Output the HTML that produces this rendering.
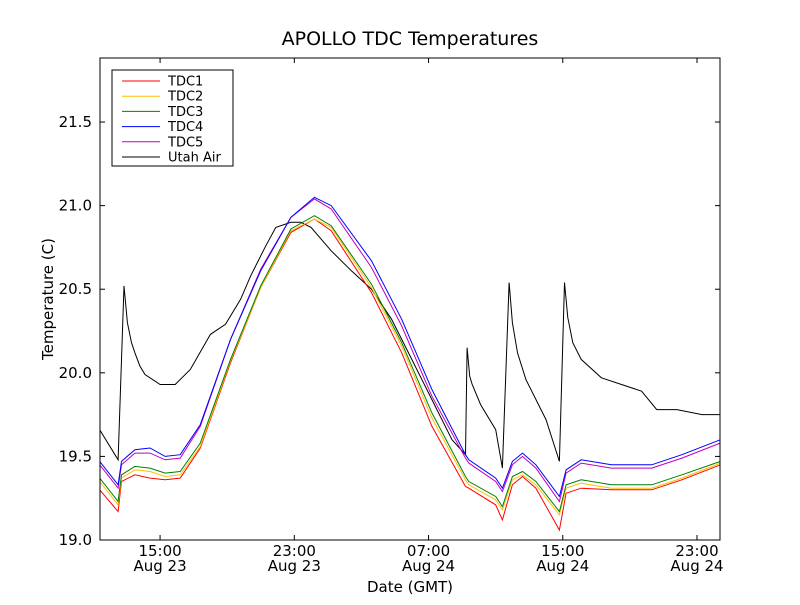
<!DOCTYPE html>
<html><head><meta charset="utf-8"><style>
body{margin:0;background:#fff;}
svg{font-family:"DejaVu Sans","Liberation Sans",sans-serif;}
</style></head><body>
<svg id="chart" width="800" height="600">
<rect x="0" y="0" width="800" height="600" fill="#fff"/>
<text x="410" y="45" font-size="19" text-anchor="middle">APOLLO TDC Temperatures</text>
<g id="plot"></g>
<rect x="100" y="58" width="620" height="482" fill="none" stroke="#000" stroke-width="1"/>
<text x="410" y="592" font-size="15" text-anchor="middle">Date (GMT)</text>
<text transform="translate(53,299) rotate(-90)" font-size="15" text-anchor="middle">Temperature (C)</text>
<g id="legend"></g>
</svg>
<script>
const times=[11.4,12.5,12.7,13.5,14.4,15.3,16.2,17.4,19.2,21,22.8,24.2,25.2,27.6,29.4,31.2,33.2,33.4,35,35.4,36,36.6,37.4,38.8,39.2,40.1,41.9,44.3,46.1,48.4];
const tdc1=[19.30,19.17,19.35,19.39,19.37,19.36,19.37,19.55,20.06,20.51,20.84,20.92,20.85,20.48,20.12,19.68,19.32,19.31,19.21,19.12,19.33,19.38,19.31,19.06,19.28,19.31,19.30,19.30,19.36,19.45];
const tdc2=[19.35,19.21,19.37,19.42,19.41,19.38,19.39,19.56,20.07,20.51,20.85,20.92,20.87,20.51,20.16,19.73,19.36,19.33,19.24,19.18,19.36,19.39,19.33,19.15,19.31,19.34,19.31,19.31,19.37,19.46];
const tdc3=[19.37,19.23,19.39,19.44,19.43,19.40,19.41,19.58,20.08,20.52,20.86,20.94,20.88,20.53,20.18,19.76,19.38,19.35,19.26,19.20,19.38,19.41,19.35,19.17,19.33,19.36,19.33,19.33,19.39,19.47];
const tdc4=[19.47,19.33,19.47,19.54,19.55,19.50,19.51,19.69,20.20,20.61,20.93,21.05,21.00,20.67,20.32,19.90,19.51,19.48,19.37,19.31,19.47,19.52,19.45,19.26,19.42,19.48,19.45,19.45,19.51,19.60];
const tdc5=[19.45,19.31,19.45,19.52,19.52,19.48,19.49,19.68,20.20,20.62,20.93,21.04,20.98,20.63,20.28,19.86,19.49,19.46,19.35,19.29,19.45,19.50,19.43,19.23,19.40,19.46,19.43,19.43,19.49,19.58];
const airTimes=[11.4,12.5,12.85,13.05,13.3,13.5,13.8,14.1,15,15.9,16.8,18,18.9,19.8,20.4,21.3,21.9,22.8,23.4,24,25.2,26.4,27.6,28.8,30,31.2,32.4,33.2,33.3,33.45,33.6,34.1,35,35.4,35.8,36.0,36.3,36.8,38,38.8,39.1,39.3,39.6,40.1,41.3,42.5,43.7,44.6,45.8,47.3,48.4];
const air=[19.66,19.48,20.52,20.30,20.18,20.12,20.04,19.99,19.93,19.93,20.02,20.23,20.29,20.44,20.58,20.76,20.87,20.90,20.90,20.87,20.73,20.61,20.50,20.32,20.08,19.84,19.60,19.51,20.15,19.98,19.93,19.81,19.66,19.43,20.54,20.30,20.12,19.96,19.72,19.47,20.54,20.33,20.18,20.08,19.97,19.93,19.89,19.78,19.78,19.75,19.75];
const yTicks=[19.0,19.5,20.0,20.5,21.0,21.5];
const xTicks=[15,23,31,39,47];
const xTickLabels=[["15:00","Aug 23"],["23:00","Aug 23"],["07:00","Aug 24"],["15:00","Aug 24"],["23:00","Aug 24"]];
const seriesNames=["TDC1","TDC2","TDC3","TDC4","TDC5","Utah Air"];
const colors=["#ff0000","#ffbf00","#008000","#0000ff","#bf00bf","#000000"];

const X0=100,X1=720,Y0=540,Y1=58,TMIN=11.42,TMAX=48.37,VMIN=19.0,VMAX=21.883;
const sx=t=>X0+(t-TMIN)/(TMAX-TMIN)*(X1-X0);
const sy=v=>Y0-(v-VMIN)/(VMAX-VMIN)*(Y0-Y1);
const NS="http://www.w3.org/2000/svg";
const plot=document.getElementById('plot');
function mk(tag,attrs,parent){const e=document.createElementNS(NS,tag);for(const k in attrs)e.setAttribute(k,attrs[k]);parent.appendChild(e);return e;}
yTicks.forEach(v=>{
  const y=sy(v);
  const t1=mk('line',{x1:X0,x2:X0+5,y1:y,y2:y,stroke:'#000'},plot);
  
  
  mk('line',{x1:X1-5,x2:X1,y1:y,y2:y,stroke:'#000'},plot);
  const tx=mk('text',{x:X0-8,y:y+5,'font-size':15,'text-anchor':'end'},plot);
  tx.textContent=v.toFixed(1);
  
  
});
xTicks.forEach((t,i)=>{
  const x=sx(t);
  const t1=mk('line',{x1:x,x2:x,y1:Y0,y2:Y0-5,stroke:'#000'},plot);
  
  
  mk('line',{x1:x,x2:x,y1:Y1,y2:Y1+5,stroke:'#000'},plot);
  const a=mk('text',{x:x,y:556,'font-size':15,'text-anchor':'middle'},plot);
  a.textContent=xTickLabels[i][0];
  
  
  const b=mk('text',{x:x,y:571,'font-size':15,'text-anchor':'middle'},plot);
  b.textContent=xTickLabels[i][1];
  
  
});
function line(ts,vs,color,name){
  const p=mk('polyline',{points:ts.map((t,i)=>sx(t).toFixed(1)+','+sy(vs[i]).toFixed(1)).join(' '),fill:'none',stroke:color,'stroke-width':1},plot);
  
  
}
line(airTimes,air,colors[5],'utah-air-line');
line(times,tdc1,colors[0],'tdc1-line');
line(times,tdc2,colors[1],'tdc2-line');
line(times,tdc3,colors[2],'tdc3-line');
line(times,tdc5,colors[4],'tdc5-line');
line(times,tdc4,colors[3],'tdc4-line');
const lg=document.getElementById('legend');
mk('rect',{x:112,y:70,width:121,height:96,fill:'#fff',stroke:'#000'},lg);
seriesNames.forEach((n,i)=>{
  const y=81+i*15.2;
  const l=mk('line',{x1:122,x2:160,y1:y,y2:y,stroke:colors[i]},lg);
  
  
  const t=mk('text',{x:168,y:y+4.5,'font-size':13},lg);
  t.textContent=n;
  
  
});
</script>
</body></html>
